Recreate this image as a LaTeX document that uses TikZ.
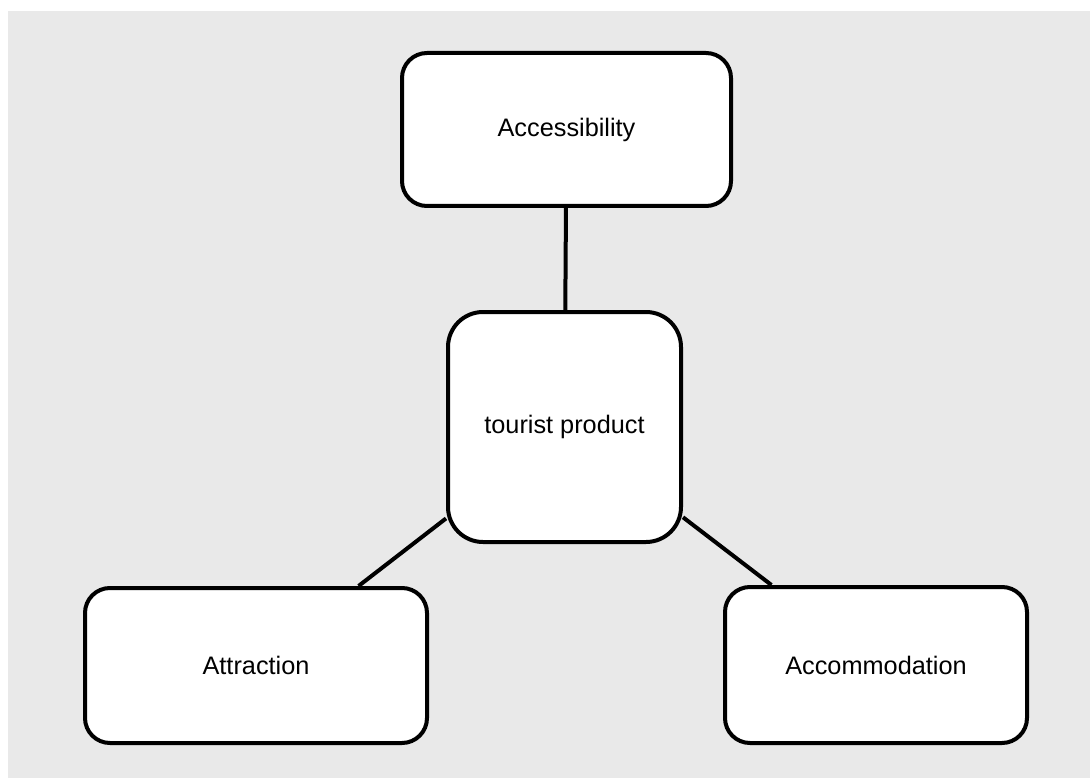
\documentclass[tikz,border=0pt]{standalone}
\usepackage{fontspec}
\setmainfont{Liberation Sans}
\definecolor{bggray}{HTML}{E9E9E9}
\begin{document}
\begin{tikzpicture}[x=1pt,y=-1pt,
  box/.style={draw=black, fill=white, line width=4pt, rounded corners=25pt,
    inner sep=0pt, font=\fontsize{25.3}{30}\selectfont},
  link/.style={draw=black, line width=4pt}]
\useasboundingbox (0,0) rectangle (1090,778);
\fill[bggray] (8,11) rectangle (1090,778);
\node[box, minimum width=329pt, minimum height=153pt] (acc) at (566.5,129.5) {Accessibility};
\node[box, rounded corners=35pt, minimum width=233pt, minimum height=230pt] (tp) at (564.5,427) {tourist product};
\node[box, minimum width=342pt, minimum height=155pt] (att) at (256,665.5) {Attraction};
\node[box, minimum width=302pt, minimum height=156pt] (acm) at (876,665) {Accommodation};
\draw[link] (acc) -- (tp);
\draw[link] (tp) -- (att);
\draw[link] (tp) -- (acm);
\end{tikzpicture}
\end{document}
